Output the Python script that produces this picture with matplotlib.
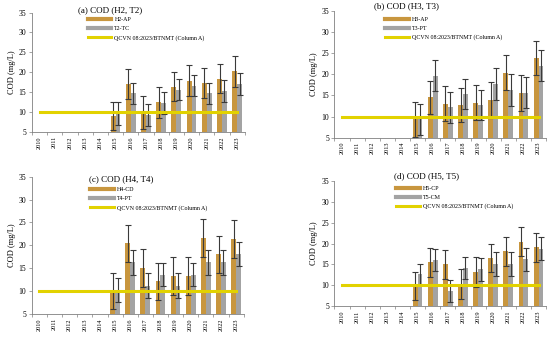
import numpy as np
import matplotlib
import matplotlib.pyplot as plt

matplotlib.use('Agg')
plt.rcParams['font.family'] = ['Liberation Serif', 'DejaVu Serif']

years = ['2010', '2011', '2012', '2013', '2014', '2015', '2016',
         '2017', '2018', '2019', '2020', '2021', '2022', '2023']
limit = 10  # QCVN 08:2023/BTNMT (Column A)

# values from 2015 to 2023 (no data before)
a_h = [9.0, 17.0, 9.9, 12.5, 16.4, 17.9, 17.3, 18.4, 20.3]
a_h_err = [3.6, 3.7, 4.1, 3.9, 3.6, 3.8, 3.7, 3.7, 3.9]
a_t = [9.7, 14.7, 9.3, 12.2, 15.6, 16.6, 14.7, 15.3, 17.0]
a_t_err = [2.9, 2.6, 2.7, 2.7, 2.7, 2.7, 2.6, 2.8, 2.8]

b_h = [9.3, 14.5, 13.0, 12.7, 13.3, 13.9, 20.4, 15.6, 23.8]
b_h_err = [4.1, 3.9, 4.1, 4.1, 4.1, 4.2, 4.1, 4.2, 4.0]
b_t = [9.3, 19.7, 12.2, 15.3, 12.7, 17.7, 16.3, 15.6, 22.0]
b_t_err = [3.7, 3.7, 3.7, 3.6, 3.6, 3.7, 3.7, 3.7, 3.7]

c_h = [10.0, 20.4, 15.0, 12.1, 13.3, 13.3, 21.6, 18.0, 21.4]
c_h_err = [4.0, 4.0, 4.1, 4.0, 4.2, 4.2, 4.1, 4.1, 4.1]
c_t = [10.2, 16.3, 11.2, 13.6, 11.2, 13.6, 16.3, 16.3, 18.1]
c_t_err = [2.7, 2.7, 2.7, 2.6, 2.7, 2.6, 2.7, 2.7, 2.7]

d_h = [9.8, 15.5, 15.0, 10.4, 13.2, 16.6, 18.1, 20.4, 19.1]
d_h_err = [3.3, 3.5, 3.4, 3.6, 3.5, 3.4, 3.4, 3.5, 3.5]
d_t = [12.6, 16.0, 8.7, 14.2, 13.8, 15.1, 15.1, 16.2, 18.8]
d_t_err = [2.6, 2.6, 2.6, 2.6, 2.8, 2.9, 2.9, 2.8, 2.7]

panels = [
    ('(a) COD (H2, T2)', 'H2-AP', 'T2-TC', a_h, a_h_err, a_t, a_t_err),
    ('(b) COD (H3, T3)', 'H3-AP', 'T3-PT', b_h, b_h_err, b_t, b_t_err),
    ('(c) COD (H4, T4)', 'H4-CD', 'T4-PT', c_h, c_h_err, c_t, c_t_err),
    ('(d) COD (H5, T5)', 'H5-CP', 'T5-CM', d_h, d_h_err, d_t, d_t_err),
]

# axes rectangles [left, bottom, width, height]
rects = [
    [0.058, 0.611, 0.387, 0.352],
    [0.608, 0.594, 0.385, 0.374],
    [0.058, 0.074, 0.385, 0.405],
    [0.608, 0.097, 0.385, 0.369],
]
legend_xy = [(0.25, 0.98), (0.23, 0.97), (0.265, 0.94), (0.28, 0.98)]
title_pos = [(110, 10), (406, 6), (121, 179), (427, 176)]

orange = '#C8963E'
grey = '#A3A3A3'
yellow = '#E2D200'
ecol = '#3A3A3A'

fig = plt.figure(figsize=(5.5, 3.39), dpi=100)

x = np.arange(len(years))
xd = x[5:]
w = 0.32

for i, (title, lab_h, lab_t, h, he, t, te) in enumerate(panels):
    ax = fig.add_axes(rects[i])
    ax.bar(xd - w / 2, np.array(h) - 5, w, bottom=5, color=orange, zorder=2)
    ax.bar(xd + w / 2, np.array(t) - 5, w, bottom=5, color=grey, zorder=2)
    ax.errorbar(xd - w / 2, h, yerr=he, fmt='none', ecolor=ecol, elinewidth=0.8,
                capsize=2.2, capthick=0.8, zorder=3)
    ax.errorbar(xd + w / 2, t, yerr=te, fmt='none', ecolor=ecol, elinewidth=0.8,
                capsize=2.2, capthick=0.8, zorder=3)
    ln, = ax.plot(x, [limit] * len(x), color=yellow, lw=2.2, zorder=4)

    ax.set_xlim(-0.5, len(years) - 0.5)
    ax.set_ylim(5, 35)
    ax.set_yticks(range(5, 36, 5))
    ax.set_xticks(x)
    ax.set_xticklabels(years, rotation=90, fontsize=4.5)
    ax.set_xticks(np.arange(-0.5, len(years), 1), minor=True)
    ax.tick_params(axis='x', which='major', length=0, pad=3)
    ax.tick_params(axis='x', which='minor', length=2, width=0.5, color='#808080')
    ax.tick_params(axis='y', labelsize=5.5, length=2, width=0.5, color='#808080', pad=2)
    ax.set_ylabel('COD (mg/L)', fontsize=6, labelpad=2)
    for s in ['top', 'right']:
        ax.spines[s].set_visible(False)
    for s in ['left', 'bottom']:
        ax.spines[s].set_color('#808080')
        ax.spines[s].set_linewidth(0.6)

    h1 = plt.Line2D([], [], color=orange, lw=3)
    h2 = plt.Line2D([], [], color=grey, lw=3)
    ax.legend([h1, h2, ln], [lab_h, lab_t, 'QCVN 08:2023/BTNMT (Column A)'],
              loc='upper left', bbox_to_anchor=legend_xy[i], frameon=False,
              fontsize=4.3, handlelength=4.0, handletextpad=0.5, labelspacing=0.6,
              borderaxespad=0)
    tx, ty = title_pos[i]
    fig.text(tx / 550, 1 - ty / 339, title, fontsize=6.5, ha='center', va='center')

fig.savefig('out.png', dpi=100)
